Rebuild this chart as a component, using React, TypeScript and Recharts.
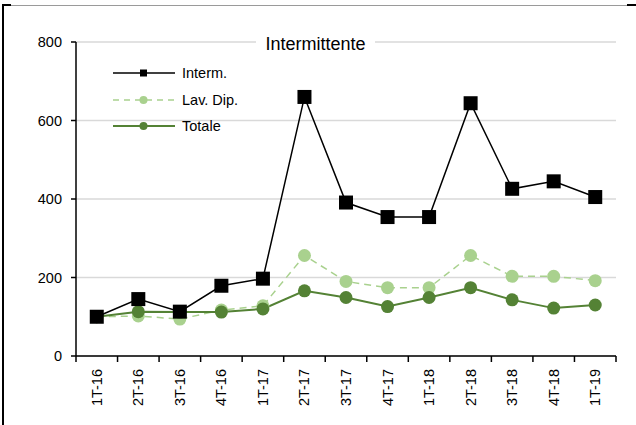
import React from "react";
import { LineChart, Line, XAxis, YAxis, CartesianGrid, Legend } from "recharts";

const quarters = ["1T-16", "2T-16", "3T-16", "4T-16", "1T-17", "2T-17", "3T-17", "4T-17", "1T-18", "2T-18", "3T-18", "4T-18", "1T-19"];
const interm = [100, 145, 113, 179, 197, 660, 391, 354, 354, 644, 426, 445, 405];
const lavDip = [100, 102, 94, 117, 128, 256, 190, 174, 174, 256, 203, 203, 192];
const totale = [100, 113, 112, 112, 120, 166, 149, 126, 149, 174, 143, 122, 130];
const yTicks = [0, 200, 400, 600, 800];

const data = quarters.map((q, i) => ({
  label: q,
  interm: interm[i],
  lavDip: lavDip[i],
  totale: totale[i],
}));

const FONT = '"Liberation Sans", Arial, sans-serif';
const W = 636;
const H = 425;
const M = { top: 42, right: 20, left: 0, bottom: 9 };
const Y_W = 76;
const BAND = (W - M.right - Y_W) / quarters.length;

const LIGHT = "#a9d18e";
const DARK = "#548235";

function XTick(props: any) {
  const { x, y, payload, index } = props;
  return (
    <g>
      <line x1={x + BAND / 2} x2={x + BAND / 2} y1={y} y2={y + 6} stroke="#000" strokeWidth={1.5} />
      {index === 0 && (
        <line x1={x - BAND / 2} x2={x - BAND / 2} y1={y} y2={y + 6} stroke="#000" strokeWidth={1.5} />
      )}
      <text
        x={x}
        y={y + 13}
        transform={`rotate(-90 ${x} ${y + 13})`}
        textAnchor="end"
        dominantBaseline="central"
        fontSize={14.5}
        fontFamily={FONT}
        fill="#000"
      >
        {payload.value}
      </text>
    </g>
  );
}

function SquareDot(props: any) {
  const { cx, cy, index } = props;
  return <rect key={`sq-${index}`} x={cx - 7} y={cy - 7} width={14} height={14} fill="#000" />;
}

const legendItems = [
  { name: "Interm.", color: "#000", dash: undefined, square: true, width: 1.5 },
  { name: "Lav. Dip.", color: LIGHT, dash: "6 5", square: false, width: 1.5 },
  { name: "Totale", color: DARK, dash: undefined, square: false, width: 2 },
];

function LegendBox() {
  return (
    <div style={{ fontFamily: FONT, fontSize: 14.5, color: "#000" }}>
      {legendItems.map((it) => (
        <div key={it.name} style={{ display: "flex", alignItems: "center", height: 26.5 }}>
          <svg width={66} height={14} style={{ marginRight: 4 }}>
            <line x1={1} x2={63} y1={7} y2={7} stroke={it.color} strokeWidth={it.width} strokeDasharray={it.dash} />
            {it.square ? (
              <rect x={28} y={3.5} width={7} height={7} fill={it.color} />
            ) : (
              <circle cx={31.5} cy={7} r={4} fill={it.color} />
            )}
          </svg>
          <span>{it.name}</span>
        </div>
      ))}
    </div>
  );
}

export default function App() {
  return (
    <div style={{ position: "absolute", left: 0, top: 0, width: W, height: H, background: "#fff", fontFamily: FONT }}>
      <LineChart width={W} height={H} data={data} margin={M}>
        <CartesianGrid vertical={false} stroke="#d9d9d9" strokeWidth={1.5} />
        <XAxis
          dataKey="label"
          height={60}
          interval={0}
          padding={{ left: BAND / 2, right: BAND / 2 }}
          tickLine={false}
          tickSize={0}
          tickMargin={0}
          axisLine={{ stroke: "#000", strokeWidth: 1.5 }}
          tick={<XTick />}
        />
        <YAxis
          width={Y_W}
          domain={[0, 800]}
          ticks={yTicks}
          tickSize={5}
          tickMargin={9}
          axisLine={{ stroke: "#000", strokeWidth: 1.5 }}
          tickLine={{ stroke: "#000", strokeWidth: 1.5 }}
          tick={{ fill: "#000", fontSize: 14.5, fontFamily: FONT }}
        />
        <Legend
          layout="horizontal"
          verticalAlign="middle"
          content={() => <LegendBox />}
          wrapperStyle={{ left: 112, top: 60, width: 160, height: 80 }}
        />
        <Line
          dataKey="lavDip"
          name="Lav. Dip."
          stroke={LIGHT}
          strokeWidth={1.5}
          strokeDasharray="7 5"
          dot={{ r: 6.5, fill: LIGHT, stroke: LIGHT, strokeWidth: 0 }}
          isAnimationActive={false}
        />
        <Line
          dataKey="totale"
          name="Totale"
          stroke={DARK}
          strokeWidth={2}
          dot={{ r: 6.5, fill: DARK, stroke: DARK, strokeWidth: 0 }}
          isAnimationActive={false}
        />
        <Line
          dataKey="interm"
          name="Interm."
          stroke="#000"
          strokeWidth={1.5}
          dot={SquareDot}
          isAnimationActive={false}
        />
      </LineChart>
      <div
        style={{
          position: "absolute",
          left: 256,
          top: 33,
          width: 119,
          height: 22,
          background: "#fff",
          textAlign: "center",
          lineHeight: "22px",
          fontSize: 18,
          color: "#000",
        }}
      >
        Intermittente
      </div>
      <div style={{ position: "absolute", left: 2, top: 5, width: 634, height: 1, background: "#9a9a9a" }} />
      <div style={{ position: "absolute", left: 2, top: 5, width: 2, height: 420, background: "#000" }} />
      <div style={{ position: "absolute", left: 2, top: 4, width: 9, height: 2, background: "#000" }} />
      <div style={{ position: "absolute", left: 627, top: 4, width: 9, height: 2, background: "#000" }} />
    </div>
  );
}
